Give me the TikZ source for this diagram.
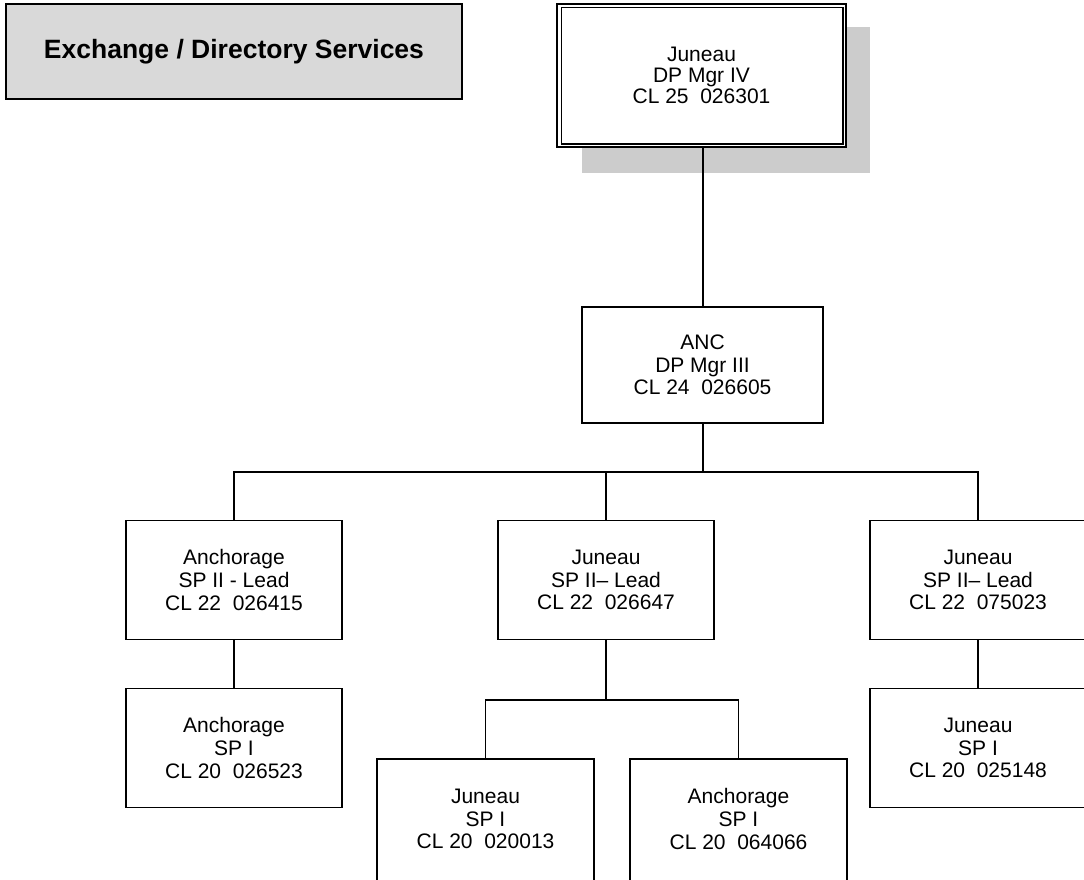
\documentclass[tikz,border=0pt]{standalone}
\usepackage{fontspec}
\setmainfont{Liberation Sans}
\definecolor{titlegray}{RGB}{217,217,217}
\definecolor{shadowgray}{RGB}{204,204,204}
\begin{document}
\begin{tikzpicture}[x=1pt,y=-1pt,
  boxtext/.style={rectangle, inner sep=0pt,
    minimum width=216pt, minimum height=119pt, align=center,
    font=\fontsize{21}{22.7}\selectfont},
  box/.style={boxtext, draw, line width=1.8pt},
  conn/.style={line width=1.8pt}]
\useasboundingbox (0,0) rectangle (1084,879);
\clip (0,0) rectangle (1084,879);
% title
\node[draw, line width=2.6pt, fill=titlegray, minimum width=456pt, minimum height=95pt,
  inner sep=0pt, font=\fontsize{26.5}{28}\selectfont\bfseries] (title) at (234,51.5)
  {Exchange / Directory Services};
% shadow of top box
\fill[shadowgray] (582,27) rectangle (870,173);
% top box
\node[box, fill=white, minimum width=289pt, minimum height=143pt,
  font=\fontsize{21}{21.3}\selectfont] (top) at (701.5,75.5)
  {Juneau\\DP Mgr IV\\CL 25\ \ 026301};
\draw[line width=1.2pt] ([xshift=5pt,yshift=4pt]top.south west) rectangle ([xshift=-4pt,yshift=-4pt]top.north east);
% second level
\node[box, minimum width=241pt, minimum height=116pt] (anc) at (702.5,365)
  {ANC\\DP Mgr III\\CL 24\ \ 026605};
% third level
\node[box] (a1) at (234,580) {Anchorage\\SP II - Lead\\CL 22\ \ 026415};
\node[box] (j1) at (606,580) {Juneau\\SP II-- Lead\\CL 22\ \ 026647};
\node[box] (j2) at (978,580) {Juneau\\SP II-- Lead\\CL 22\ \ 075023};
% fourth level
\node[box] (a2) at (234,748) {Anchorage\\SP I\\CL 20\ \ 026523};
\node[box] (j4) at (978,748) {Juneau\\SP I\\CL 20\ \ 025148};
\node[boxtext, minimum width=217pt] (j3) at (485.5,819) {Juneau\\SP I\\CL 20\ \ 020013};
\node[boxtext, minimum width=217pt] (a3) at (738.5,819) {Anchorage\\SP I\\CL 20\ \ 064066};
\draw[conn] (j3.south west |- 0,900) -- (j3.north west) -- (j3.north east) -- (j3.south east |- 0,900);
\draw[conn] (a3.south west |- 0,900) -- (a3.north west) -- (a3.north east) -- (a3.south east |- 0,900);
% connectors
\coordinate (bar) at (703,472);
\coordinate (bar2) at (606,700);
\draw[conn] (top.south -| bar) -- (anc.north -| bar);
\draw[conn] (anc.south -| bar) -- (bar);
\draw[conn] (a1.north) |- (bar) -| (j2.north);
\draw[conn] (j1.north) -- (j1.north |- bar);
\draw[conn] (a1.south) -- (a2.north);
\draw[conn] (j2.south) -- (j4.north);
\draw[conn] (j1.south) -- (bar2);
\draw[conn] (j3.north) |- (bar2) -| (a3.north);
\end{tikzpicture}
\end{document}
